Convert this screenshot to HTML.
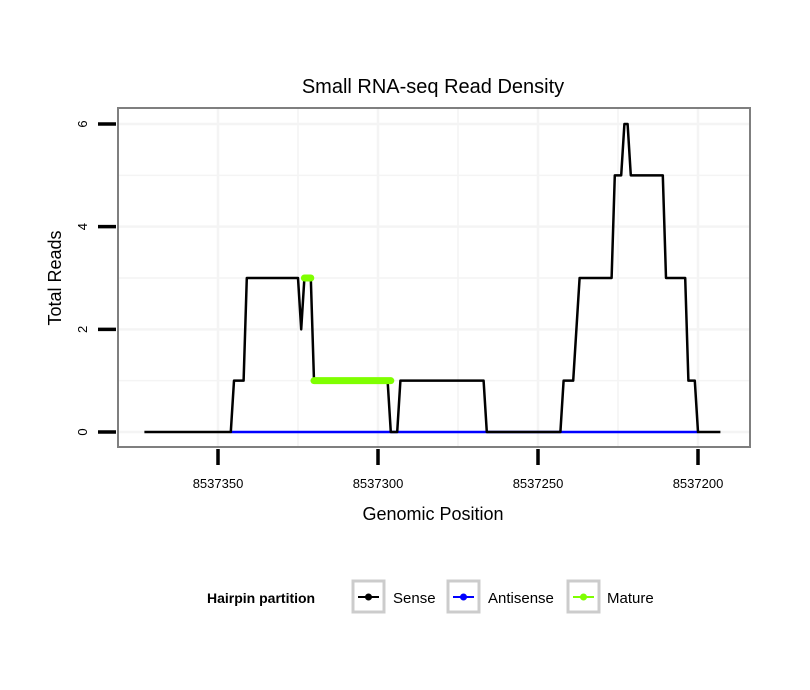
<!DOCTYPE html>
<html><head><meta charset="utf-8"><style>
body{margin:0;background:#fff;}
svg{display:block;font-family:"Liberation Sans",sans-serif;}
</style></head><body>
<svg id="chart" width="810" height="690">
<rect width="810" height="690" fill="#fff"/>
<text x="433" y="93" font-size="20" text-anchor="middle">Small RNA-seq Read Density</text>
<g id="grid"></g>
<g id="series"></g>
<rect x="118" y="108" width="632" height="339" fill="none" stroke="#7f7f7f" stroke-width="2"/>
<g id="axes"></g>
<text x="433" y="520" font-size="18" text-anchor="middle">Genomic Position</text>
<text transform="translate(61,278) rotate(-90)" font-size="18" text-anchor="middle">Total Reads</text>
<g>
<text x="207" y="603" font-size="14" font-weight="bold">Hairpin partition</text>
<g>
<rect x="353" y="581" width="31" height="31" fill="#fff" stroke="#ccc" stroke-width="3"/>
<line x1="358" y1="597" x2="379" y2="597" stroke="#000" stroke-width="2"/><circle cx="368.5" cy="597" r="3.5" fill="#000"/>
<text x="393" y="603" font-size="15">Sense</text></g>
<g>
<rect x="448" y="581" width="31" height="31" fill="#fff" stroke="#ccc" stroke-width="3"/>
<line x1="453" y1="597" x2="474" y2="597" stroke="#00f" stroke-width="2"/><circle cx="463.5" cy="597" r="3.5" fill="#00f"/>
<text x="488" y="603" font-size="15">Antisense</text></g>
<g>
<rect x="568" y="581" width="31" height="31" fill="#fff" stroke="#ccc" stroke-width="3"/>
<line x1="573" y1="597" x2="594" y2="597" stroke="#7fff00" stroke-width="2"/><circle cx="583.5" cy="597" r="3.5" fill="#7fff00"/>
<text x="607" y="603" font-size="15">Mature</text></g>
</g>
</svg>
<script>
const senseX = [8537373,8537346,8537345,8537342,8537341,8537325,8537324,8537323,8537321,8537320,8537297,8537296,8537294,8537293,8537267,8537266,8537243,8537242,8537239,8537237,8537227,8537226,8537224,8537223,8537222,8537221,8537211,8537210,8537204,8537203,8537201,8537200,8537193];
const senseY = [0,0,1,1,3,3,2,3,3,1,1,0,0,1,1,0,0,1,1,3,3,5,5,6,6,5,5,3,3,1,1,0,0];
const antisenseX = [8537346,8537200];
const antisenseY = [0,0];
const matureSeg1X = [8537323,8537321];
const matureSeg1Y = [3,3];
const matureSeg2X = [8537320,8537296];
const matureSeg2Y = [1,1];
const xTicks = [8537350,8537300,8537250,8537200];
const xTickLabels = ["8537350","8537300","8537250","8537200"];
const yTicks = [0,2,4,6];
const yMinor = [1,3,5];
const xMinor = [8537325,8537275,8537225];

const NS="http://www.w3.org/2000/svg";
const sx = v => 218 + (8537350 - v) * 3.2;
const sy = v => 432 - v * 51.33;
function mk(tag, attrs, parent){const e=document.createElementNS(NS,tag);for(const k in attrs)e.setAttribute(k,attrs[k]);parent.appendChild(e);return e;}
const grid=document.getElementById('grid'), series=document.getElementById('series'), axes=document.getElementById('axes');
yMinor.concat(yTicks).forEach(v=>{const l=mk('line',{x1:119,x2:749,y1:sy(v),y2:sy(v),stroke:'#f4f4f4','stroke-width':yTicks.includes(v)?2.5:1.5},grid);

});
xMinor.concat(xTicks).forEach(v=>{const l=mk('line',{x1:sx(v),x2:sx(v),y1:109,y2:446,stroke:'#f4f4f4','stroke-width':xTicks.includes(v)?2.5:1.5},grid);

});
function path(xs,ys,color,w,cap){return mk('polyline',{points:xs.map((x,i)=>sx(x)+','+sy(ys[i])).join(' '),fill:'none',stroke:color,'stroke-width':w,'stroke-linecap':cap,'stroke-linejoin':'round'},series);}
const a=path(antisenseX,antisenseY,'#0000ff',2.5,'butt');


const s=path(senseX,senseY,'#000',2.5,'butt');


const m1=path(matureSeg1X,matureSeg1Y,'#7fff00',7,'round');


const m2=path(matureSeg2X,matureSeg2Y,'#7fff00',7,'round');


xTicks.forEach((v,i)=>{const t=mk('line',{x1:sx(v),x2:sx(v),y1:449,y2:465,stroke:'#000','stroke-width':3.5},axes);


const tx=mk('text',{x:sx(v),y:488,'font-size':13,'text-anchor':'middle'},axes);tx.textContent=xTickLabels[i];

});
yTicks.forEach(v=>{const t=mk('line',{x1:98,x2:116,y1:sy(v),y2:sy(v),stroke:'#000','stroke-width':3.5},axes);


const tx=mk('text',{transform:'translate(87,'+sy(v)+') rotate(-90)','font-size':13,'text-anchor':'middle'},axes);tx.textContent=String(v);

});
</script>
</body></html>
